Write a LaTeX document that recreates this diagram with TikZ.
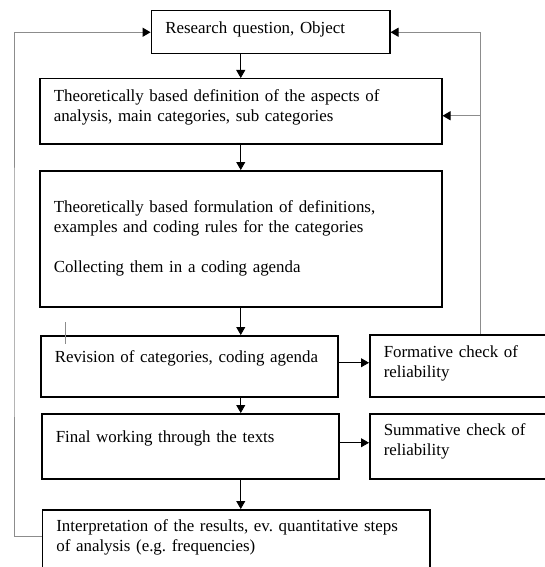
\documentclass[tikz,border=0pt]{standalone}
\usepackage{fontspec}
\setmainfont{Liberation Serif}
\frenchspacing
\usetikzlibrary{arrows.meta,calc}

\begin{document}
\begin{tikzpicture}[x=1pt,y=-1pt,
  box/.style={draw, line width=1.5pt, anchor=north west, inner xsep=14pt, inner ysep=0pt,
    align=left, font=\fontsize{16.9}{20}\selectfont},
  arr/.style={line width=0.8pt, -{Triangle[length=8pt,width=9pt]}},
  fb/.style={black!45, line width=1pt, -{Triangle[length=8pt,width=9pt,color=black]}}]
\useasboundingbox (0,0) rectangle (544,567);

% main column
\node[box, text width=210.4pt, text height=23pt, text depth=20pt] (rq) at (150.6,10) {Research question, Object};
\node[box, text width=374pt, text height=23pt, text depth=42pt] (def) at (39,78)
  {Theoretically based definition of the aspects of\\ analysis, main categories, sub categories};
\node[box, text width=374pt, text height=42pt, text depth=94pt] (form) at (39,170)
  {Theoretically based formulation of definitions,\\ examples and coding rules for the categories\\[20pt] Collecting them in a coding agenda};
\node[box, text width=269pt, text height=27pt, text depth=34pt] (rev) at (40,335) {Revision of categories, coding agenda};
\node[box, text width=269pt, text height=29pt, text depth=36pt] (final) at (41,413) {Final working through the texts};
\node[box, text width=359.5pt, text height=22pt, text depth=50pt] (interp) at (41.6,509)
  {Interpretation of the results, ev. quantitative steps\\ of analysis (e.g. frequencies)};

% checks
\node[box, text width=162pt, text height=23pt, text depth=39pt] (fcheck) at (369,334) {Formative check of\\ reliability};
\node[box, text width=162pt, text height=22pt, text depth=43pt] (scheck) at (369,413) {Summative check of\\ reliability};

\draw[arr] (rq.south -| def.north) -- (def.north);
\draw[arr] (def.south) -- (form.north);
\draw[arr] (form.south) -- (form.south |- rev.north);
\draw[arr] (form.south |- rev.south) -- (form.south |- final.north);
\draw[arr] (form.south |- final.south) -- (form.south |- interp.north);

\draw[arr] (rev.base east) -- (rev.base east -| fcheck.west);
\draw[arr] (final.base east) -- (final.base east -| scheck.west);

% feedback loops
\coordinate (fbr) at ([xshift=111pt]fcheck.north west);
\coordinate (lft) at (14,300);
\draw[fb] (fbr) |- (rq.east);
\draw[fb] (fbr |- def.east) ++(0,4.5) coordinate (fbd) -- (fbd -| def.east);
\draw[fb] ([yshift=-5pt]interp.base west) -| (lft) |- (rq.west);

\draw[black!45, line width=0.8pt] (65,322) -- (65,344);
\end{tikzpicture}
\end{document}
